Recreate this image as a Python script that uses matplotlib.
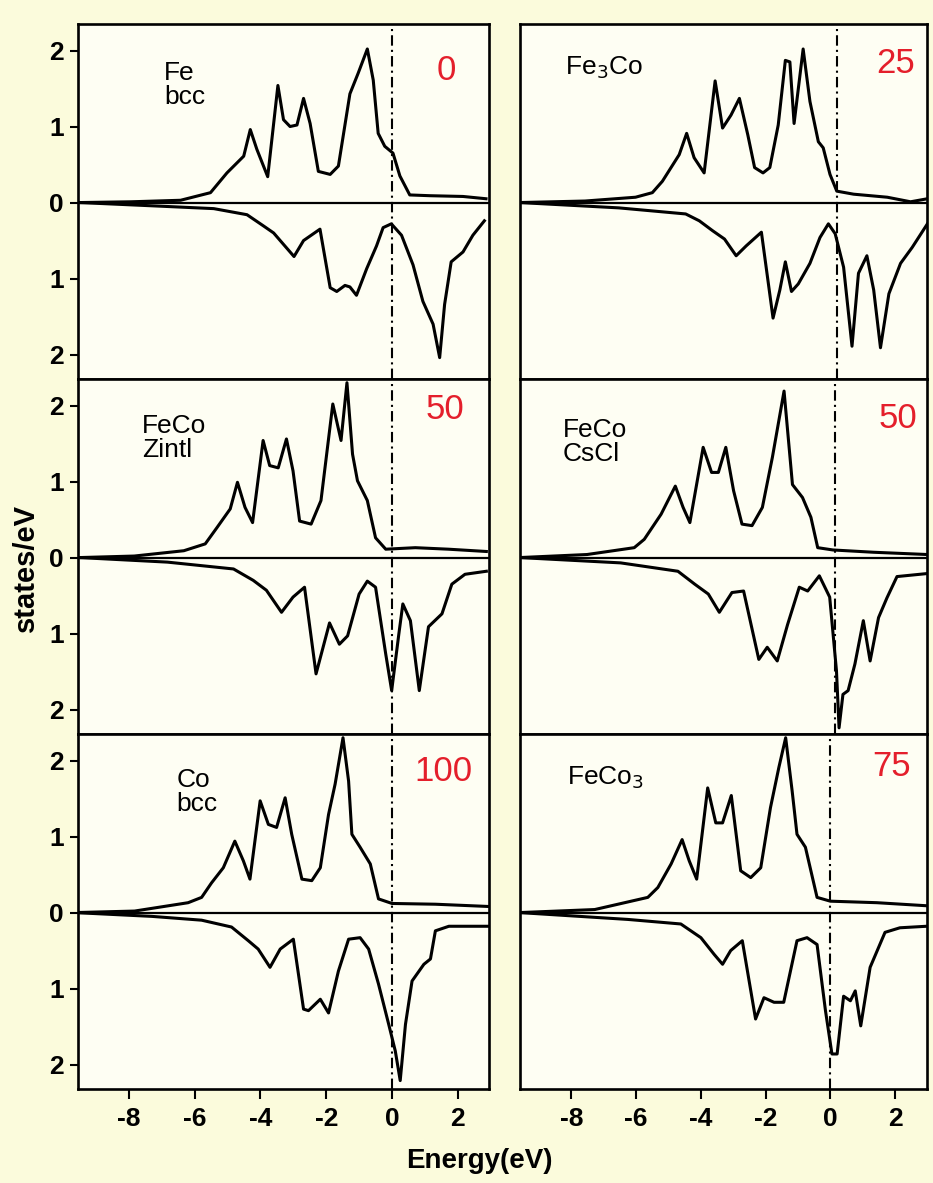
import matplotlib.pyplot as plt
import numpy as np

plt.rcParams["font.family"] = ["Liberation Sans", "DejaVu Sans"]

# spin-up / spin-down DOS (states/eV), energy in eV
fe_up_e = [-9.5, -7.94, -6.43, -5.52, -5.02, -4.51, -4.31, -4.11, -3.78, -3.47, -3.3, -3.1, -2.89, -2.69, -2.49,
           -2.24, -1.88, -1.63, -1.28, -1.03, -0.75, -0.57, -0.42, -0.22, 0.03, 0.24, 0.54, 1.15, 2.16, 2.86]
fe_up = [0, 0.01, 0.03, 0.13, 0.39, 0.61, 0.96, 0.70, 0.34, 1.54, 1.09, 1.0, 1.02, 1.37, 1.04,
         0.41, 0.37, 0.48, 1.43, 1.70, 2.02, 1.61, 0.91, 0.74, 0.65, 0.35, 0.10, 0.09, 0.08, 0.05]
fe_dn_e = [-9.5, -6.93, -5.42, -4.41, -3.9, -3.6, -3.3, -2.98, -2.69, -2.19, -1.88, -1.68, -1.43, -1.28, -1.08,
           -0.77, -0.47, -0.27, -0.02, 0.29, 0.64, 0.94, 1.25, 1.45, 1.60, 1.80, 2.16, 2.46, 2.81]
fe_dn = [0, 0.05, 0.08, 0.16, 0.31, 0.40, 0.55, 0.71, 0.50, 0.35, 1.12, 1.17, 1.09, 1.11, 1.22,
         0.87, 0.57, 0.33, 0.28, 0.43, 0.82, 1.30, 1.60, 2.04, 1.34, 0.78, 0.65, 0.43, 0.24]

fe3co_up_e = [-9.6, -7.58, -6.02, -5.5, -5.19, -4.67, -4.44, -4.21, -3.9, -3.56, -3.33, -3.07, -2.81, -2.55, -2.34, -2.08,
              -1.87, -1.61, -1.39, -1.25, -1.12, -0.84, -0.63, -0.37, -0.22, -0.01, 0.2, 0.72, 1.76, 2.48, 3.0]
fe3co_up = [0, 0.02, 0.07, 0.13, 0.28, 0.63, 0.91, 0.59, 0.39, 1.60, 0.98, 1.15, 1.37, 0.89, 0.46, 0.39,
            0.46, 1.02, 1.87, 1.85, 1.04, 2.02, 1.33, 0.80, 0.72, 0.37, 0.15, 0.11, 0.07, 0.01, 0.05]
fe3co_dn_e = [-9.6, -6.54, -4.47, -4.05, -3.64, -3.27, -2.91, -2.6, -2.13, -1.77, -1.56, -1.39, -1.2, -0.99,
              -0.63, -0.32, -0.06, 0.15, 0.41, 0.67, 0.87, 1.13, 1.34, 1.55, 1.81, 2.17, 2.53, 3.0]
fe3co_dn = [0, 0.07, 0.15, 0.24, 0.37, 0.48, 0.70, 0.57, 0.39, 1.52, 1.15, 0.78, 1.17, 1.07,
            0.80, 0.46, 0.28, 0.41, 0.85, 1.89, 0.93, 0.70, 1.15, 1.91, 1.20, 0.80, 0.59, 0.28]

zintl_up_e = [-9.5, -7.84, -6.33, -5.68, -5.33, -4.92, -4.7, -4.47, -4.24, -3.92, -3.72, -3.46, -3.21, -3.01, -2.81,
              -2.46, -2.16, -1.95, -1.8, -1.55, -1.37, -1.2, -1.05, -0.75, -0.5, -0.19, 0.71, 1.72, 2.87]
zintl_up = [0, 0.02, 0.09, 0.18, 0.39, 0.64, 0.99, 0.66, 0.46, 1.54, 1.21, 1.18, 1.56, 1.14, 0.48,
            0.44, 0.75, 1.49, 2.02, 1.54, 2.30, 1.36, 1.01, 0.75, 0.26, 0.11, 0.13, 0.11, 0.08]
zintl_dn_e = [-9.5, -6.83, -4.82, -4.22, -3.82, -3.36, -3.01, -2.66, -2.31, -1.9, -1.6, -1.35, -1.0,
              -0.75, -0.5, -0.19, -0.01, 0.21, 0.33, 0.56, 0.83, 1.11, 1.52, 1.82, 2.22, 2.87]
zintl_dn = [0, 0.06, 0.15, 0.30, 0.43, 0.72, 0.52, 0.39, 1.53, 0.86, 1.14, 1.03, 0.48,
            0.31, 0.39, 1.27, 1.75, 1.0, 0.61, 0.83, 1.75, 0.91, 0.74, 0.35, 0.22, 0.18]

cscl_up_e = [-9.6, -7.52, -6.06, -5.75, -5.23, -4.79, -4.55, -4.34, -3.93, -3.67, -3.46, -3.23, -2.99,
             -2.73, -2.42, -2.1, -1.79, -1.43, -1.17, -0.86, -0.6, -0.39, 0.08, 1.33, 3.0]
cscl_up = [0, 0.04, 0.13, 0.24, 0.57, 0.94, 0.66, 0.46, 1.45, 1.12, 1.12, 1.45, 0.88,
           0.44, 0.42, 0.66, 1.32, 2.19, 0.96, 0.79, 0.53, 0.13, 0.10, 0.07, 0.04]
cscl_dn_e = [-9.6, -6.48, -4.71, -4.19, -3.77, -3.43, -3.04, -2.68, -2.21, -1.95, -1.64, -1.32, -0.96, -0.7,
             -0.34, -0.02, 0.19, 0.27, 0.39, 0.55, 0.76, 1.02, 1.23, 1.49, 1.75, 2.06, 3.0]
cscl_dn = [0, 0.07, 0.18, 0.35, 0.48, 0.72, 0.46, 0.44, 1.34, 1.18, 1.36, 0.88, 0.39, 0.44,
           0.24, 0.52, 1.49, 2.24, 1.80, 1.75, 1.40, 0.83, 1.36, 0.79, 0.53, 0.25, 0.21]

co_up_e = [-9.65, -7.83, -6.2, -5.79, -5.49, -5.13, -4.78, -4.52, -4.32, -4.01, -3.76, -3.51, -3.25, -3.05,
           -2.74, -2.44, -2.18, -1.93, -1.73, -1.49, -1.32, -1.22, -0.97, -0.66, -0.41, 0.0, 1.32, 2.95]
co_up = [0, 0.02, 0.13, 0.2, 0.39, 0.59, 0.94, 0.68, 0.44, 1.47, 1.16, 1.12, 1.51, 1.03,
         0.44, 0.42, 0.59, 1.29, 1.69, 2.30, 1.73, 1.03, 0.86, 0.64, 0.18, 0.12, 0.11, 0.08]
co_dn_e = [-9.65, -7.3, -5.79, -4.88, -4.37, -4.07, -3.71, -3.4, -3.0, -2.69, -2.54, -2.18, -1.93, -1.63,
           -1.32, -0.97, -0.71, -0.41, -0.1, 0.1, 0.25, 0.41, 0.61, 0.97, 1.17, 1.32, 1.73, 2.95]
co_dn = [0, 0.05, 0.1, 0.19, 0.37, 0.48, 0.72, 0.48, 0.35, 1.27, 1.29, 1.14, 1.32, 0.77,
         0.35, 0.33, 0.48, 0.94, 1.47, 1.82, 2.21, 1.47, 0.90, 0.68, 0.61, 0.24, 0.18, 0.18]

feco3_up_e = [-9.6, -7.28, -5.64, -5.33, -4.92, -4.58, -4.36, -4.13, -3.79, -3.54, -3.33, -3.06, -2.77,
              -2.46, -2.15, -1.85, -1.59, -1.38, -1.18, -1.03, -0.77, -0.41, 0.0, 1.44, 2.97]
feco3_up = [0, 0.04, 0.2, 0.33, 0.64, 0.96, 0.68, 0.44, 1.64, 1.18, 1.18, 1.54, 0.55,
            0.46, 0.59, 1.38, 1.91, 2.30, 1.6, 1.03, 0.86, 0.20, 0.15, 0.13, 0.09]
feco3_dn_e = [-9.6, -6.26, -4.62, -4.0, -3.59, -3.33, -3.08, -2.72, -2.31, -2.05, -1.74, -1.44, -1.03,
              -0.72, -0.41, -0.15, 0.05, 0.21, 0.41, 0.62, 0.77, 0.94, 1.23, 1.69, 2.15, 2.97]
feco3_dn = [0, 0.09, 0.15, 0.33, 0.55, 0.68, 0.50, 0.37, 1.40, 1.12, 1.18, 1.18, 0.37,
            0.33, 0.42, 1.29, 1.86, 1.86, 1.10, 1.16, 1.03, 1.49, 0.72, 0.26, 0.20, 0.18]

names = ["Fe\nbcc", "Fe$_3$Co", "FeCo\nZintl", "FeCo\nCsCl", "Co\nbcc", "FeCo$_3$"]
co_percent = ["0", "25", "50", "50", "100", "75"]
fermi = [0.0, 0.2, 0.0, 0.13, 0.0, 0.0]

curves = [
    (fe_up_e, fe_up, fe_dn_e, fe_dn),
    (fe3co_up_e, fe3co_up, fe3co_dn_e, fe3co_dn),
    (zintl_up_e, zintl_up, zintl_dn_e, zintl_dn),
    (cscl_up_e, cscl_up, cscl_dn_e, cscl_dn),
    (co_up_e, co_up, co_dn_e, co_dn),
    (feco3_up_e, feco3_up, feco3_dn_e, feco3_dn),
]

# label positions inside each panel (axes fraction)
name_xy = [(0.21, 0.895), (0.11, 0.915), (0.155, 0.90), (0.105, 0.89), (0.24, 0.905), (0.115, 0.915)]
num_xy = [(0.92, 0.915), (0.97, 0.935), (0.94, 0.96), (0.975, 0.935), (0.96, 0.94), (0.96, 0.955)]

fig = plt.figure(figsize=(9.33, 11.83), dpi=100, facecolor="#fbfbdc")

bottom = 0.0795
height = 0.3001
lefts = [0.0836, 0.557]
widths = [0.4405, 0.437]
xlims = [(-9.55, 2.95), (-9.6, 3.0)]

for i, (ue, u, de, d) in enumerate(curves):
    row, col = divmod(i, 2)
    ax = fig.add_axes([lefts[col], bottom + (2 - row) * height, widths[col], height])
    ax.set_facecolor("#fefef3")
    ax.plot(ue, u, color="black", lw=2.2)
    ax.plot(de, -np.array(d), color="black", lw=2.2)
    ax.axhline(0, color="black", lw=1.6)
    ax.axvline(fermi[i], color="black", lw=1.5, ls=(0, (5, 2, 1, 2)))
    ax.set_xlim(*xlims[col])
    ax.set_ylim(-2.32, 2.35)
    for s in ax.spines.values():
        s.set_linewidth(1.9)

    if col == 0:
        ax.set_yticks([2, 1, 0, -1, -2])
        ax.set_yticklabels(["2", "1", "0", "1", "2"], fontsize=19, fontweight="bold")
        ax.tick_params(axis="y", direction="out", length=6, width=1.5, pad=4)
    else:
        ax.set_yticks([])

    if row == 2:
        ax.set_xticks([-8, -6, -4, -2, 0, 2])
        ax.set_xticklabels(["-8", "-6", "-4", "-2", "0", "2"], fontsize=19, fontweight="bold")
        ax.tick_params(axis="x", direction="out", length=7, width=1.5, pad=6)
    else:
        ax.set_xticks([])

    ax.text(*name_xy[i], names[i], transform=ax.transAxes, ha="left", va="top",
            fontsize=19, linespacing=1.0)
    ax.text(*num_xy[i], co_percent[i], transform=ax.transAxes, ha="right", va="top",
            fontsize=25, color="#e41f2b")

fig.text(0.028, 0.52, "states/eV", rotation=90, ha="center", va="center", fontsize=21, fontweight="bold")
fig.text(0.514, 0.019, "Energy(eV)", ha="center", va="center", fontsize=20, fontweight="bold")

fig.savefig("out.png", dpi=100, facecolor=fig.get_facecolor())
